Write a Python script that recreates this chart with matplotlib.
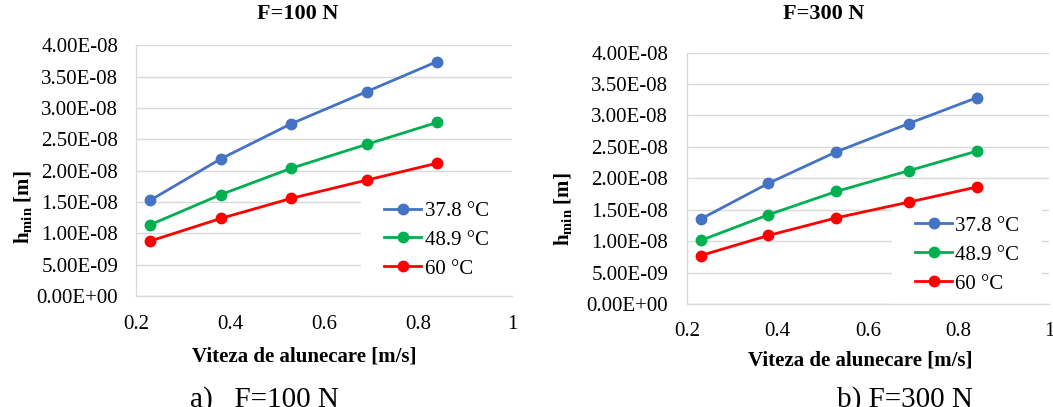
import matplotlib
matplotlib.use("Agg")
import matplotlib.pyplot as plt
from matplotlib.ticker import FuncFormatter, MultipleLocator

plt.rcParams['font.family'] = ['Liberation Serif', 'DejaVu Serif']
plt.rcParams['mathtext.fontset'] = 'custom'
plt.rcParams['mathtext.rm'] = 'Liberation Serif'
plt.rcParams['mathtext.bf'] = 'Liberation Serif:bold'
plt.rcParams['mathtext.it'] = 'Liberation Serif:italic'

# ---- data ----
speed = [0.23, 0.38, 0.53, 0.69, 0.84]
series_labels = ["37.8 °C", "48.9 °C", "60 °C"]
series_colors = ["#4472C4", "#00B050", "#FF0000"]

f100_t378 = [1.53e-8, 2.19e-8, 2.75e-8, 3.26e-8, 3.74e-8]
f100_t489 = [1.14e-8, 1.62e-8, 2.04e-8, 2.42e-8, 2.77e-8]
f100_t60 = [0.88e-8, 1.24e-8, 1.56e-8, 1.85e-8, 2.12e-8]

f300_t378 = [1.35e-8, 1.92e-8, 2.42e-8, 2.87e-8, 3.28e-8]
f300_t489 = [1.01e-8, 1.42e-8, 1.79e-8, 2.12e-8, 2.43e-8]
f300_t60 = [0.77e-8, 1.09e-8, 1.37e-8, 1.62e-8, 1.86e-8]

titles = ["F=100 N", "F=300 N"]
captions = ["a)   F=100 N", "b) F=300 N"]
xlabel = "Viteza de alunecare [m/s]"
ylabel = r"$\mathbf{h}_{\mathbf{min}}$ [m]"

W, H = 1053, 407
fig = plt.figure(figsize=(W / 100, H / 100), dpi=100)

def frac_rect(x0, x1, ytop, ybot):
    return [x0 / W, 1 - ybot / H, (x1 - x0) / W, (ybot - ytop) / H]

ax1 = fig.add_axes(frac_rect(136.2, 512.2, 45.3, 296.2))
ax2 = fig.add_axes(frac_rect(687, 1049, 52.5, 304))

configs = [
    dict(ax=ax1, data=[f100_t378, f100_t489, f100_t60], title=titles[0],
         title_xy=(0.429, 1.093), ylab_xy=(-0.302, 0.355), xlab_xy=(0.446, -0.242),
         leg_xy=(0.598, 0.224), ypad=13.0),
    dict(ax=ax2, data=[f300_t378, f300_t489, f300_t60], title=titles[1],
         title_xy=(0.378, 1.121), ylab_xy=(-0.3425, 0.378), xlab_xy=(0.479, -0.223),
         leg_xy=(0.566, 0.195), ypad=13.5),
]

grid_c = "#D9D9D9"
for c in configs:
    ax = c['ax']
    for vals, lab, col in zip(c['data'], series_labels, series_colors):
        ax.plot(speed, vals, color=col, lw=2.0, marker='o', ms=7.5,
                label=lab, clip_on=False, zorder=3)
    ax.set_xlim(0.2, 1.0)
    ax.set_ylim(0, 4e-8)
    ax.xaxis.set_major_locator(MultipleLocator(0.2))
    ax.yaxis.set_major_locator(MultipleLocator(5e-9))
    ax.xaxis.set_major_formatter(FuncFormatter(lambda v, p: f"{v:g}"))
    ax.yaxis.set_major_formatter(FuncFormatter(lambda v, p: f"{v:.2E}"))
    ax.grid(axis='y', color=grid_c, lw=1.0)
    ax.set_axisbelow(True)
    for s in ['top', 'right']:
        ax.spines[s].set_visible(False)
    for s in ['left', 'bottom']:
        ax.spines[s].set_color(grid_c)
        ax.spines[s].set_linewidth(1.0)
    ax.tick_params(axis='y', length=0, pad=c['ypad'], labelsize=15, colors='black')
    ax.tick_params(axis='x', length=0, pad=13.3, labelsize=15, colors='black')
    ax.set_title(c['title'], fontsize=16, fontweight='bold',
                 x=c['title_xy'][0], y=c['title_xy'][1], va='center')
    ax.set_ylabel(ylabel, fontsize=15, fontweight='bold', va='center', ha='center')
    ax.yaxis.set_label_coords(*c['ylab_xy'])
    ax.set_xlabel(xlabel, fontsize=15, fontweight='bold', va='center')
    ax.xaxis.set_label_coords(*c['xlab_xy'])
    leg = ax.legend(loc='center left', bbox_to_anchor=c['leg_xy'], fontsize=15,
                    frameon=True, facecolor='white', edgecolor='none', framealpha=1,
                    borderpad=1.1, borderaxespad=0, handlelength=1.8,
                    handletextpad=0.15, labelspacing=0.45)
    leg.get_frame().set_boxstyle('square', pad=0)
    leg.set_zorder(2)

fig.text(190 / W, 0.5 / H, captions[0], fontsize=21, va='baseline', ha='left')
fig.text(836.7 / W, 0.5 / H, captions[1], fontsize=21, va='baseline', ha='left')

fig.savefig("out.png", dpi=100)
